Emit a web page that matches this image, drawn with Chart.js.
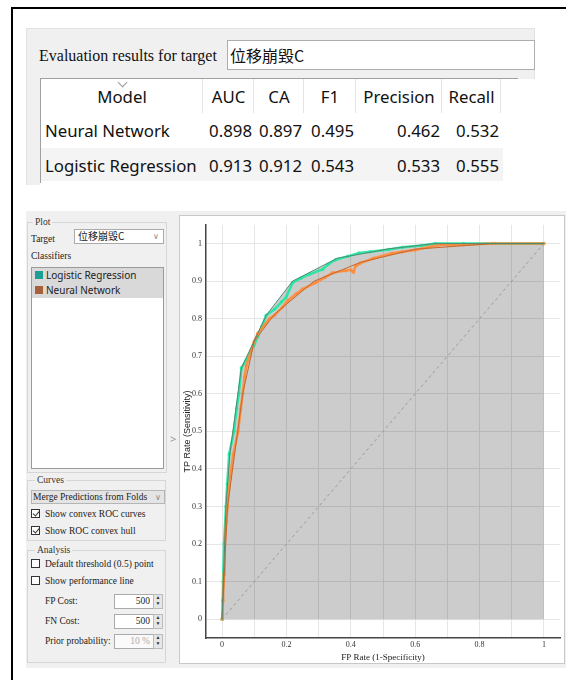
<!DOCTYPE html>
<html>
<head>
<meta charset="utf-8">
<script src="https://cdn.jsdelivr.net/npm/chart.js@4"></script>
<style>
  body { margin: 0; width: 566px; height: 680px; background: #fff; position: relative; overflow: hidden; }
  .abs { position: absolute; }
  .serif { font-family: "Liberation Serif", "DejaVu Serif", serif; }
  .sans { font-family: "Noto Sans", "Open Sans", sans-serif; }
  .cjk { font-family: "Noto Sans CJK TC", "Noto Sans CJK SC", sans-serif; }
  .group { position: absolute; border: 1px solid #d6d6d6; box-sizing: border-box; }
  .glabel { position: absolute; background: #f0f0f0; padding: 0 2px; font-size: 9.5px; color: #333; line-height: 10px; }
  .lbl { position: absolute; font-size: 9.5px; color: #222; line-height: 12px; white-space: nowrap; }
  .chk { position: absolute; width: 9px; height: 9px; border: 1px solid #333; background: #fff; box-sizing: border-box; }
  .chk.on::after { content: ""; position: absolute; left: 2px; top: 0px; width: 3px; height: 5px; border-right: 1px solid #333; border-bottom: 1px solid #333; transform: rotate(40deg); }
  .spin { position: absolute; width: 40px; height: 15px; border: 1px solid #aaa; background: #fff; box-sizing: border-box; font-size: 9.5px; text-align: right; padding-right: 3px; line-height: 13px; color: #222; }
  .spinbtn { position: absolute; width: 10px; height: 15px; border: 1px solid #bbb; background: #e6e6e6; box-sizing: border-box; font-size: 5px; line-height: 6px; text-align: center; color: #333; }
  .cell { position: absolute; white-space: nowrap; font-size: 16.8px; color: #111; }
</style>
</head>
<body>
<div class="abs" style="left:11px;top:7px;width:620px;height:700px;border-left:2px solid #000;border-top:2px solid #000;"></div>

<!-- evaluation results panel -->
<div class="abs" style="left:26px;top:28px;width:509px;height:51px;background:#f0f0f0;border:1px solid #e2e2e2;border-bottom:none;box-sizing:border-box;"></div>
<div class="abs" style="left:26px;top:78px;width:14px;height:107px;background:#f0f0f0;border-left:1px solid #e2e2e2;box-sizing:border-box;"></div>
<div class="abs serif" style="left:39px;top:46px;font-size:16px;line-height:20px;color:#111;">Evaluation results for target</div>
<div class="abs" style="left:227px;top:40px;width:308px;height:30px;background:#fff;border:1px solid #adadad;box-sizing:border-box;"></div>
<div class="abs cjk" style="left:230px;top:45px;font-size:16px;line-height:20px;color:#111;">位移崩毀C</div>
<div id="table" class="abs" style="left:40px;top:78px;width:478px;height:105px;background:#fff;border-left:1px solid #a0a0a0;border-top:1px solid #a0a0a0;box-sizing:border-box;"></div>

<!-- ROC panel -->
<div class="abs" style="left:26px;top:211px;width:545px;height:457px;background:#f0f0f0;"></div>

<div class="group" style="left:27px;top:222px;width:140px;height:251px;"></div>
<div class="glabel serif" style="left:33px;top:217px;">Plot</div>
<div class="lbl serif" style="left:31px;top:233px;">Target</div>
<div class="abs" style="left:74px;top:229px;width:90px;height:15px;background:#fff;border:1px solid #aaa;box-sizing:border-box;"></div>
<div class="lbl cjk" style="left:78px;top:230px;font-size:10px;">位移崩毀C</div>
<div class="lbl sans" style="left:153px;top:230px;font-size:8px;color:#888;">&#8744;</div>
<div class="lbl serif" style="left:31px;top:250px;">Classifiers</div>
<div id="clist" class="abs" style="left:31px;top:267px;width:133px;height:202px;background:#fff;border:1px solid #9a9a9a;box-sizing:border-box;"></div>
<div class="lbl sans" style="left:170px;top:433px;font-size:11px;color:#999;">&gt;</div>

<div class="group" style="left:27px;top:480px;width:139px;height:61px;"></div>
<div class="glabel serif" style="left:35px;top:475px;">Curves</div>
<div class="abs" style="left:31px;top:490px;width:134px;height:14px;background:#e4e4e4;border:1px solid #b5b5b5;box-sizing:border-box;"></div>
<div class="lbl serif" style="left:33px;top:491px;">Merge Predictions from Folds</div>
<div class="lbl sans" style="left:155px;top:491px;font-size:8px;color:#888;">&#8744;</div>
<div class="chk on" style="left:31px;top:509px;"></div>
<div class="lbl serif" style="left:45px;top:508px;">Show convex ROC curves</div>
<div class="chk on" style="left:31px;top:526px;"></div>
<div class="lbl serif" style="left:45px;top:525px;">Show ROC convex hull</div>

<div class="group" style="left:27px;top:550px;width:139px;height:113px;"></div>
<div class="glabel serif" style="left:35px;top:545px;">Analysis</div>
<div class="chk" style="left:31px;top:559px;"></div>
<div class="lbl serif" style="left:45px;top:558px;">Default threshold (0.5) point</div>
<div class="chk" style="left:31px;top:576px;"></div>
<div class="lbl serif" style="left:45px;top:575px;">Show performance line</div>
<div class="lbl serif" style="left:45px;top:595px;">FP Cost:</div>
<div class="spin serif" style="left:114px;top:594px;">500</div>
<div class="spinbtn" style="left:153px;top:594px;">&#9650;<br>&#9660;</div>
<div class="lbl serif" style="left:45px;top:615px;">FN Cost:</div>
<div class="spin serif" style="left:114px;top:614px;">500</div>
<div class="spinbtn" style="left:153px;top:614px;">&#9650;<br>&#9660;</div>
<div class="lbl serif" style="left:45px;top:635px;">Prior probability:</div>
<div class="spin serif" style="left:114px;top:634px;color:#aaa;background:#fafafa;">10 %</div>
<div class="spinbtn" style="left:153px;top:634px;">&#9650;<br>&#9660;</div>

<div class="abs" style="left:179px;top:215px;width:386px;height:449px;background:#fff;border:1px solid #c8c8c8;box-sizing:border-box;"></div>
<canvas id="roc" class="abs" width="384" height="447" style="left:180px;top:216px;"></canvas>

<script>
// evaluation table
const tableHeaders = ['Model', 'AUC', 'CA', 'F1', 'Precision', 'Recall'];
const tableModels = ['Neural Network', 'Logistic Regression'];
const tableAUC = [0.898, 0.913];
const tableCA = [0.897, 0.912];
const tableF1 = [0.495, 0.543];
const tablePrecision = [0.462, 0.533];
const tableRecall = [0.532, 0.555];

// classifiers
const classifiers = ['Logistic Regression', 'Neural Network'];
const classifierColors = ['#1d9e93', '#a8603a'];

// ROC curve points (FP rate, TP rate)
const lrFpr = [0, 0.002, 0.003, 0.006, 0.012, 0.016, 0.022, 0.037, 0.045, 0.052, 0.06, 0.075, 0.09, 0.1, 0.111, 0.124, 0.137, 0.163, 0.185, 0.199, 0.219, 0.245, 0.271, 0.312, 0.33, 0.353, 0.39, 0.425, 0.46, 0.518, 0.56, 0.62, 0.662, 0.75, 0.85, 1];
const lrTpr = [0, 0.05, 0.1, 0.2, 0.3, 0.36, 0.44, 0.5, 0.56, 0.6, 0.669, 0.69, 0.715, 0.73, 0.752, 0.78, 0.809, 0.825, 0.845, 0.857, 0.896, 0.908, 0.918, 0.931, 0.945, 0.957, 0.966, 0.975, 0.978, 0.984, 0.99, 0.995, 1, 1, 1, 1];
const nnFpr = [0, 0.003, 0.006, 0.008, 0.013, 0.017, 0.025, 0.035, 0.05, 0.058, 0.064, 0.07, 0.075, 0.091, 0.1, 0.111, 0.132, 0.147, 0.163, 0.188, 0.204, 0.23, 0.25, 0.291, 0.32, 0.343, 0.384, 0.4, 0.408, 0.415, 0.43, 0.471, 0.528, 0.56, 0.6, 0.64, 0.672, 0.75, 0.84, 1];
const nnTpr = [0, 0.05, 0.12, 0.2, 0.26, 0.3, 0.38, 0.44, 0.5, 0.56, 0.6, 0.645, 0.674, 0.717, 0.74, 0.761, 0.783, 0.8, 0.809, 0.831, 0.848, 0.866, 0.879, 0.896, 0.91, 0.922, 0.928, 0.93, 0.924, 0.94, 0.948, 0.961, 0.974, 0.978, 0.983, 0.99, 0.996, 0.997, 1, 1];

// convex hulls
const lrHullFpr = [0, 0.012, 0.024, 0.06, 0.137, 0.219, 0.358, 0.518, 0.662, 1];
const lrHullTpr = [0, 0.3, 0.44, 0.669, 0.809, 0.9, 0.961, 0.986, 1, 1];
const nnHullFpr = [0, 0.017, 0.064, 0.1, 0.163, 0.286, 0.43, 0.6, 0.84, 1];
const nnHullTpr = [0, 0.3, 0.6, 0.74, 0.812, 0.9, 0.95, 0.985, 1, 1];

// chance line
const diagFpr = [0, 1];
const diagTpr = [0, 1];

// ticks
const xGridTicks = [0, 0.1, 0.2, 0.3, 0.4, 0.5, 0.6, 0.7, 0.8, 0.9, 1];
const xTickLabels = ['0', '', '0.2', '', '0.4', '', '0.6', '', '0.8', '', '1'];
const yGridTicks = [0, 0.1, 0.2, 0.3, 0.4, 0.5, 0.6, 0.7, 0.8, 0.9, 1];
const yTickLabels = ['0', '0.1', '0.2', '0.3', '0.4', '0.5', '0.6', '0.7', '0.8', '0.9', '1'];

// --- table ---
const table = document.getElementById('table');
const colLeft = [0, 162, 213, 263, 315, 401];
const colRight = [162, 213, 263, 315, 401, 460];
const rowTop = [0, 35, 70];
const rowHeight = [35, 34, 33];

function cell(text, left, width, top, height, align, pad) {
    const d = document.createElement('div');
    d.className = 'cell';
    d.textContent = text;
    d.style.left = left + 'px';
    d.style.width = width + 'px';
    d.style.top = top + 'px';
    d.style.height = height + 'px';
    d.style.lineHeight = height + 'px';
    d.style.textAlign = align;
    d.style.fontFamily = '"Noto Sans", sans-serif';
    if (pad) d.style.padding = pad;
    d.style.boxSizing = 'border-box';
    table.appendChild(d);
    return d;
}

// second row shading
const shade = document.createElement('div');
shade.className = 'abs';
Object.assign(shade.style, { left: '0px', top: '69px', width: '462px', height: '33px', background: '#f4f4f4' });
table.appendChild(shade);

tableHeaders.forEach((h, i) => {
    cell(h, colLeft[i], colRight[i] - colLeft[i], rowTop[0], rowHeight[0], 'center');
    const sep = document.createElement('div');
    sep.className = 'abs';
    Object.assign(sep.style, { left: (colRight[i] - 1) + 'px', top: '0px', width: '1px', height: '34px', background: '#e4e4e4' });
    table.appendChild(sep);
});
// sort indicator
const sortInd = document.createElement('div');
sortInd.className = 'abs';
Object.assign(sortInd.style, { left: '78px', top: '0px', width: '6px', height: '6px', borderRight: '1px solid #999', borderBottom: '1px solid #999', transform: 'rotate(45deg)' });
table.appendChild(sortInd);

const cols = [tableAUC, tableCA, tableF1, tablePrecision, tableRecall];
tableModels.forEach((m, r) => {
    cell(m, 4, 160, rowTop[r + 1], rowHeight[r + 1], 'left');
    cols.forEach((c, i) => {
        cell(c[r].toFixed(3), colLeft[i + 1] - 4, colRight[i + 1] - colLeft[i + 1] + 4, rowTop[r + 1], rowHeight[r + 1], 'right', '0 2px 0 0');
    });
});

// --- classifier list ---
const clist = document.getElementById('clist');
classifiers.forEach((c, i) => {
    const row = document.createElement('div');
    row.className = 'abs sans';
    Object.assign(row.style, { left: '0px', top: (i * 15) + 'px', width: '131px', height: '15px', background: '#d9d9d9', fontSize: '10px', lineHeight: '15px', color: '#222' });
    row.innerHTML = '<span style="position:absolute;left:3px;top:3px;width:8px;height:8px;background:' + classifierColors[i] + '"></span><span style="position:absolute;left:14px;">' + c + '</span>';
    clist.appendChild(row);
});

// --- ROC chart ---
const pts = (xs, ys) => xs.map((x, i) => ({ x: x, y: ys[i] }));
const tickFont = { family: '"Liberation Serif", serif', size: 8 };

const rocChart = new Chart(document.getElementById('roc').getContext('2d'), {
    type: 'scatter',
    data: {
        datasets: [
            {
                label: 'LR hull',
                data: pts(lrHullFpr, lrHullTpr),
                showLine: true,
                borderColor: '#4f8a72',
                borderWidth: 1,
                pointRadius: 0,
                fill: false,
                order: 1
            },
            {
                label: 'NN hull',
                data: pts(nnHullFpr, nnHullTpr),
                showLine: true,
                borderColor: '#c4662e',
                borderWidth: 1,
                pointRadius: 0,
                fill: false,
                order: 2
            },
            {
                label: 'Logistic Regression',
                data: pts(lrFpr, lrTpr),
                showLine: true,
                borderColor: 'rgba(30, 232, 160, 0.9)',
                borderWidth: 2.5,
                pointRadius: 1.8,
                pointBorderWidth: 0,
                pointBackgroundColor: 'rgba(30, 232, 160, 0.7)',
                fill: false,
                order: 4
            },
            {
                label: 'Neural Network',
                data: pts(nnFpr, nnTpr),
                showLine: true,
                borderColor: 'rgba(255, 138, 55, 0.9)',
                borderWidth: 2.5,
                pointRadius: 1.8,
                pointBorderWidth: 0,
                pointBackgroundColor: 'rgba(255, 138, 55, 0.7)',
                fill: false,
                order: 3
            },
            {
                label: 'chance',
                data: pts(diagFpr, diagTpr),
                showLine: true,
                borderColor: '#9a9a9a',
                borderWidth: 1,
                borderDash: [3, 3],
                pointRadius: 0,
                fill: false,
                order: 8
            },
            {
                label: 'hull area',
                data: pts(lrHullFpr, lrHullTpr),
                showLine: true,
                borderWidth: 0,
                borderColor: 'rgba(0,0,0,0)',
                backgroundColor: 'rgba(0, 0, 0, 0.2)',
                pointRadius: 0,
                fill: 'origin',
                order: 9
            }
        ]
    },
    options: {
        responsive: false,
        animation: false,
        layout: { padding: { top: 2, right: 1.5, left: 0, bottom: 0 } },
        plugins: {
            legend: { display: false },
            tooltip: { enabled: false }
        },
        scales: {
            x: {
                type: 'linear',
                min: -0.05,
                max: 1.05,
                afterBuildTicks: axis => { axis.ticks = xGridTicks.map(v => ({ value: v })); },
                afterFit: axis => { axis.height = 25; },
                grid: { color: '#e6e6e6', drawTicks: false },
                border: { color: '#444', width: 1.5 },
                ticks: {
                    padding: 2,
                    maxRotation: 0,
                    autoSkip: false,
                    color: '#333',
                    font: tickFont,
                    callback: (v, i) => xTickLabels[i]
                },
                title: {
                    display: true,
                    text: 'FP Rate (1-Specificity)',
                    color: '#222',
                    font: { family: '"Liberation Serif", serif', size: 9 },
                    padding: { top: 0, bottom: 0 }
                }
            },
            y: {
                type: 'linear',
                min: -0.05,
                max: 1.05,
                afterBuildTicks: axis => { axis.ticks = yGridTicks.map(v => ({ value: v })); },
                afterFit: axis => { axis.width = 26; },
                grid: { color: '#e6e6e6', drawTicks: false },
                border: { color: '#444', width: 1.5 },
                ticks: {
                    padding: 4,
                    autoSkip: false,
                    color: '#333',
                    font: tickFont,
                    callback: (v, i) => yTickLabels[i]
                },
                title: {
                    display: true,
                    text: 'TP Rate (Sensitivity)',
                    color: '#222',
                    font: { family: '"Liberation Sans", Arial, sans-serif', size: 9 },
                    padding: { top: 2, bottom: 0 }
                }
            }
        }
    }
});
</script>
</body>
</html>
